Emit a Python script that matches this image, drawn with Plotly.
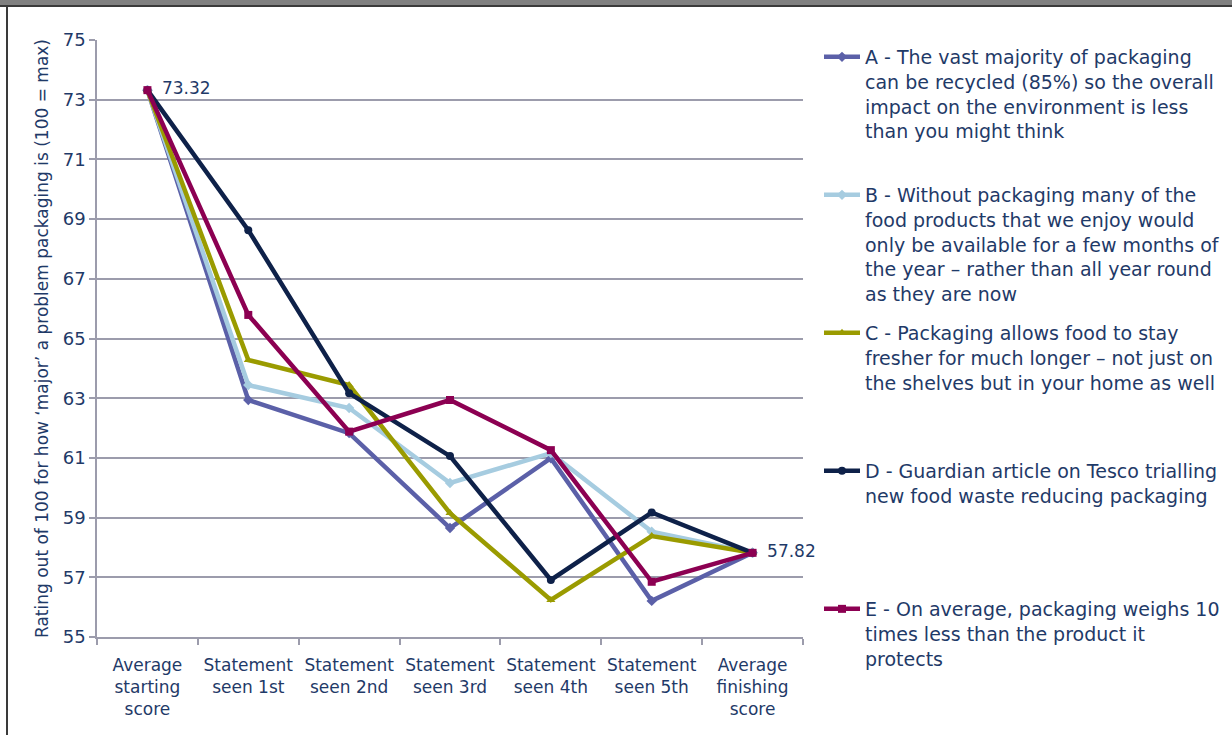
import plotly.graph_objects as go

categories = ["Average<br>starting<br>score", "Statement<br>seen 1st", "Statement<br>seen 2nd",
              "Statement<br>seen 3rd", "Statement<br>seen 4th", "Statement<br>seen 5th",
              "Average<br>finishing<br>score"]

series_names = [
    "A - The vast majority of packaging<br>can be recycled (85%) so the overall<br>impact on the environment is less<br>than you might think",
    "B - Without packaging many of the<br>food products that we enjoy would<br>only be available for a few months of<br>the year \u2013 rather than all year round<br>as they are now",
    "C - Packaging allows food to stay<br>fresher for much longer \u2013 not just on<br>the shelves but in your home as well",
    "D - Guardian article on Tesco trialling<br>new food waste reducing packaging",
    "E - On average, packaging weighs 10<br>times less than the product it<br>protects",
]

values_A = [73.32, 62.94, 61.83, 58.65, 60.99, 56.21, 57.82]
values_B = [73.32, 63.44, 62.67, 60.16, 61.16, 58.53, 57.82]
values_C = [73.32, 64.28, 63.44, 59.15, 56.24, 58.38, 57.82]
values_D = [73.32, 68.63, 63.17, 61.06, 56.91, 59.17, 57.82]
values_E = [73.32, 65.79, 61.88, 62.94, 61.26, 56.85, 57.82]

y_ticks = [55, 57, 59, 61, 63, 65, 67, 69, 71, 73, 75]
y_title = "Rating out of 100 for how \u2018major\u2019 a problem packaging is (100 = max)"

colors = ["#5B60A8", "#A6CCE0", "#9A9B00", "#0E2149", "#8C0052"]
symbols = ["diamond", "diamond", "triangle-up", "circle", "square"]
all_values = [values_A, values_B, values_C, values_D, values_E]

FONT = "DejaVu Sans, Verdana, sans-serif"
TEXT = "#1F3A68"
GRID = "#9C9CAC"

fig = go.Figure()
legend_tops = [57, 195, 333, 471, 609]
for i, (name, vals) in enumerate(zip(series_names, all_values)):
    lg = "legend" if i == 0 else f"legend{i+1}"
    text = [""] * len(vals)
    if i == 4:
        text[0] = "\u2002" + f"{vals[0]:.2f}"
        text[-1] = "\u2002" + f"{vals[-1]:.2f}"
    fig.add_trace(go.Scatter(
        x=categories, y=vals, name=name, mode="lines+markers+text",
        line=dict(color=colors[i], width=4.5),
        marker=dict(symbol=symbols[i], size=8, color=colors[i]),
        text=text, textposition="middle right",
        textfont=dict(family=FONT, size=17, color=TEXT),
        legend=lg, cliponaxis=False,
    ))

W, H = 1232, 735
L, R, T, B = 97, 803, 40, 637

legends = {}
for i, top in enumerate(legend_tops):
    key = "legend" if i == 0 else f"legend{i+1}"
    legends[key] = dict(
        x=819 / W, y=1 - (top - 19) / H, xref="container", yref="container",
        xanchor="left", yanchor="top", valign="top",
        font=dict(family=FONT, size=19, color=TEXT),
        bgcolor="rgba(0,0,0,0)", itemwidth=36, tracegroupgap=0,
    )

fig.update_layout(
    width=W, height=H,
    margin=dict(l=L, r=W - R, t=T, b=H - B),
    paper_bgcolor="white", plot_bgcolor="white",
    showlegend=True,
    font=dict(family=FONT, size=17, color=TEXT),
    **legends,
    xaxis=dict(
        range=[-0.5, 6.5],
        showgrid=False, showline=True, linecolor=GRID, linewidth=1.5,
        ticks="outside", tickson="boundaries", ticklen=6, tickcolor=GRID, tickwidth=1.5,
        tickfont=dict(family=FONT, size=17, color=TEXT),
        ticklabelstandoff=12,
        fixedrange=True,
    ),
    yaxis=dict(
        range=[55, 75], tickvals=y_ticks, showgrid=True, gridcolor=GRID, gridwidth=1.5,
        showline=True, linecolor=GRID, linewidth=1.5, zeroline=False,
        ticks="outside", ticklen=6, tickcolor=GRID, tickwidth=1.5,
        tickfont=dict(family=FONT, size=18, color=TEXT),
        title=dict(text=y_title, font=dict(family=FONT, size=17, color=TEXT), standoff=10),
    ),
    shapes=[
        dict(type="rect", xref="paper", yref="paper",
             x0=-L / (R - L) - 0.01, x1=(W - L) / (R - L) + 0.01,
             y0=(B - 6) / (B - T), y1=(B + 2) / (B - T) + 0.01,
             fillcolor="#808080", line=dict(width=0), layer="above"),
        dict(type="line", xref="paper", yref="paper",
             x0=-L / (R - L) - 0.01, x1=(W - L) / (R - L) + 0.01,
             y0=(B - 6) / (B - T), y1=(B - 6) / (B - T),
             line=dict(color="#3A3A3A", width=2), layer="above"),
        dict(type="line", xref="paper", yref="paper",
             x0=(7 - L) / (R - L), x1=(7 - L) / (R - L),
             y0=(B - 6) / (B - T), y1=(B - H) / (B - T) - 0.01,
             line=dict(color="#3A3A3A", width=2), layer="above"),
    ],
)

fig.write_html("out.html")
